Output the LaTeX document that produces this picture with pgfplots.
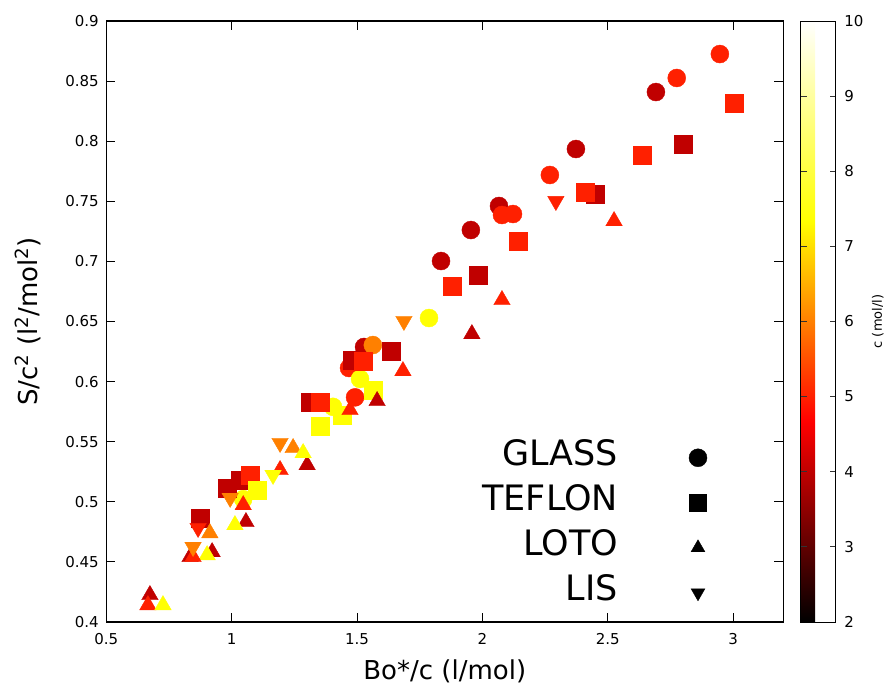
\documentclass[border=0pt]{standalone}
\usepackage{fontspec}
\setmainfont{DejaVu Sans}
\usepackage{pgfplots}
\usepackage{pgfplotstable}
\pgfplotsset{compat=1.18}

\pgfplotstableread{
x y c
2.947 0.8725 5
2.775 0.8526 5
2.692 0.8409 4
2.373 0.7935 4
2.269 0.7719 5
2.066 0.7461 4
2.122 0.7394 5
2.078 0.7386 5
1.954 0.7261 4
1.835 0.7003 4
1.787 0.6529 7.35
1.528 0.6288 4
1.563 0.6304 6
1.468 0.6113 5
1.512 0.6022 7.35
1.492 0.5869 5
1.404 0.5790 7.35
1.046 0.5022 7.35
}\glass

\pgfplotstableread{
x y c
3.006 0.8318 5
2.799 0.7977 4
2.636 0.7885 5
2.448 0.7561 4
2.408 0.7577 5
2.142 0.7170 5
1.982 0.6887 4
1.878 0.6795 5
1.635 0.6255 4
1.480 0.6180 4
1.524 0.6171 5
1.313 0.5830 4
1.352 0.5830 5
1.440 0.5722 7.35
1.563 0.5930 7.35
1.352 0.5631 7.35
0.874 0.4865 4
0.982 0.5115 4
1.034 0.5181 4
1.073 0.5223 5
1.101 0.5098 7.35
}\teflon

\pgfplotstableread{
x y c
2.525 0.7336 5
2.078 0.6679 5
1.958 0.6396 4
1.683 0.6088 5
1.580 0.5839 4
1.472 0.5764 5
1.301 0.5306 4
1.245 0.5448 6
1.285 0.5406 7.35
1.193 0.5265 5
1.046 0.4973 5
1.057 0.4832 4
1.013 0.4807 7.35
0.913 0.4740 6
0.922 0.4582 4
0.902 0.4557 7.35
0.834 0.4541 4
0.846 0.4541 5
0.674 0.4225 4
0.666 0.4141 5
0.726 0.4141 7.35
}\loto

\pgfplotstableread{
x y c
2.293 0.7502 5
1.687 0.6504 6
1.193 0.5489 6
1.165 0.5223 7.35
0.994 0.5032 6
0.866 0.4782 5
0.846 0.4624 6
}\lis

\begin{document}
\begin{tikzpicture}
\begin{axis}[
  scale only axis, width=677pt, height=601pt,
  xmin=0.5, xmax=3.2, ymin=0.4, ymax=0.9,
  xtick={0.5,1,1.5,2,2.5,3},
  ytick={0.4,0.45,0.5,0.55,0.6,0.65,0.7,0.75,0.8,0.85,0.9},
  tick align=inside, major tick length=9pt,
  xtick pos=both, ytick pos=both,
  xticklabel pos=left, yticklabel pos=left,
  minor tick num=0,
  axis line style={line width=1.1pt, black},
  every tick/.style={line width=0.9pt, black},
  /pgf/number format/assume math mode=true,
  ticklabel style={font=\fontsize{15}{15}\selectfont},
  xticklabel style={yshift=-8pt},
  yticklabel style={xshift=-4pt},
  xlabel={Bo*/c (l/mol)},
  ylabel={S/c\textsuperscript{2} (l\textsuperscript{2}/mol\textsuperscript{2})},
  label style={font=\fontsize{26}{26}\selectfont},
  xlabel style={yshift=-8pt},
  ylabel style={yshift=18pt},
  colormap={hot}{rgb=(0,0,0) rgb=(1,0,0) rgb=(1,1,0) rgb=(1,1,1)},
  point meta min=2, point meta max=10,
  colorbar,
  colorbar style={
    scale only axis,
    at={(parent axis.north east)}, anchor=north west, xshift=9pt,
    width=35pt, height=601pt,
    ytick={2,3,4,5,6,7,8,9,10},
    tick align=inside, major tick length=6pt,
    ytick pos=both, yticklabel pos=right,
    axis line style={line width=0.9pt, black},
    every tick/.style={line width=0.8pt, black!80},
    /pgf/number format/assume math mode=true,
    ticklabel style={font=\fontsize{15}{15}\selectfont},
    tick label style={font=\fontsize{15}{15}\selectfont},
    yticklabel style={font=\fontsize{15}{15}\selectfont, xshift=5pt},
    ylabel={c (mol/l)},
    every axis y label/.style={at={(rel axis cs:1,0.5)}, xshift=42pt, rotate=90, anchor=center, font=\fontsize{13}{13}\selectfont},
  },
  scatter/use mapped color={draw=mapped color, fill=mapped color},
  legend plot pos=right,
  legend image code/.code={\path[draw=none, fill=none] (0pt,-14pt) rectangle (89pt,31pt); \draw[#1] plot coordinates {(80pt,8pt)};},
  legend style={
    at={(0.8873,0.012)}, anchor=south east, draw=none, fill=none,
    font=\fontsize{35}{35}\selectfont,
    row sep=0pt, inner sep=0pt, outer sep=0pt,
    cells={anchor=base east},
    nodes={inner sep=0pt, text height=31pt, text depth=14pt},
  },
]
\addplot[scatter, only marks, mark=*, mark size=9pt, forget plot, point meta=explicit] table[x=x, y=y, meta=c] {\glass};
\addplot[scatter, only marks, mark=square*, mark size=9pt, forget plot, point meta=explicit] table[x=x, y=y, meta=c] {\teflon};
\addplot[scatter, only marks, mark=triangle*, mark size=9.5pt, forget plot, point meta=explicit] table[x=x, y=y, meta=c] {\loto};
\addplot[scatter, only marks, mark=triangle*, mark size=9.5pt, mark options={rotate=180}, forget plot, point meta=explicit] table[x=x, y=y, meta=c] {\lis};
\addlegendimage{only marks, mark=*, mark size=9pt, black, fill=black}
\addlegendentry{GLASS}
\addlegendimage{only marks, mark=square*, mark size=8.5pt, black, fill=black}
\addlegendentry{TEFLON}
\addlegendimage{only marks, mark=triangle*, mark size=8pt, black, fill=black}
\addlegendentry{LOTO}
\addlegendimage{only marks, mark=triangle*, mark size=8pt, mark options={rotate=180}, black, fill=black}
\addlegendentry{LIS}
\end{axis}
\pgfresetboundingbox
\path (-106.3pt,-64pt) rectangle (781.7pt,622pt);
\end{tikzpicture}
\end{document}
